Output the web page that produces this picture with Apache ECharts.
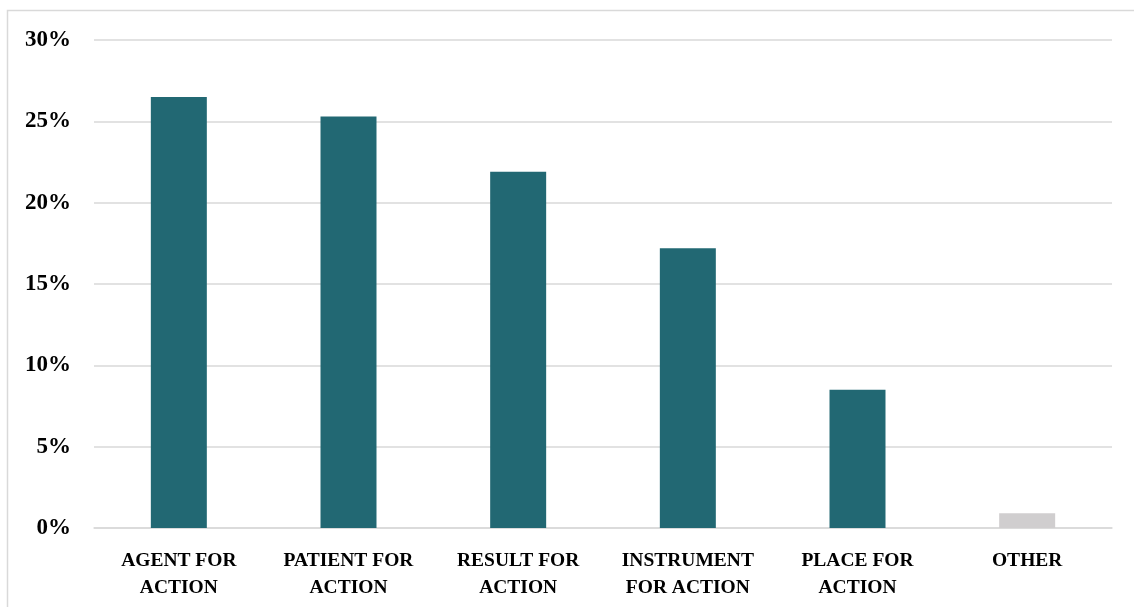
<!DOCTYPE html>
<html>
<head>
<meta charset="utf-8">
<title>Share by relation type</title>
<script src="https://cdn.jsdelivr.net/npm/echarts@6/dist/echarts.min.js"></script>
<style>
  html, body { margin: 0; padding: 0; background: #ffffff; }
  #chart { width: 1134px; height: 607px; }
</style>
</head>
<body>
<div id="chart"></div>
<script>
// Relation categories (shown on two lines under each bar)
const categories = [
  'AGENT FOR\nACTION',
  'PATIENT FOR\nACTION',
  'RESULT FOR\nACTION',
  'INSTRUMENT\nFOR ACTION',
  'PLACE FOR\nACTION',
  'OTHER'
];

// Share of each relation, in percent
const shares = [26.5, 25.3, 21.9, 17.2, 8.5, 0.9];

// Bar colours: the named relations in teal, the remainder in grey
const barColors = ['#226873', '#226873', '#226873', '#226873', '#226873', '#d0cecf'];

// Value axis ticks
const yMin = 0;
const yMax = 30;
const yStep = 5;

const fontFamily = '"Liberation Serif", "Times New Roman", serif';

const chart = echarts.init(document.getElementById('chart'), null, { renderer: 'canvas' });

chart.setOption({
  animation: false,
  backgroundColor: '#ffffff',
  graphic: [{
    type: 'rect',
    shape: { x: 7.5, y: 10.5, width: 1140, height: 610 },
    style: { fill: 'none', stroke: '#d9d9d9', lineWidth: 1.5 },
    silent: true
  }],
  grid: { left: 94, right: 22, top: 40, bottom: 79 },
  xAxis: {
    type: 'category',
    data: categories,
    axisLine: { show: true, lineStyle: { color: '#d9d9d9', width: 1.5 } },
    axisTick: { show: false },
    axisLabel: {
      interval: 0,
      margin: 19,
      color: '#000000',
      fontFamily: fontFamily,
      fontWeight: 'bold',
      fontSize: 19.5,
      lineHeight: 27,
      align: 'center'
    }
  },
  yAxis: {
    type: 'value',
    min: yMin,
    max: yMax,
    interval: yStep,
    axisLine: { show: false },
    axisTick: { show: false },
    splitLine: { lineStyle: { color: '#d9d9d9', width: 1.5 } },
    axisLabel: {
      margin: 23,
      color: '#000000',
      fontFamily: fontFamily,
      fontWeight: 'bold',
      fontSize: 23,
      formatter: v => v + '%'
    }
  },
  series: [{
    type: 'bar',
    data: shares.map((v, i) => ({ value: v, itemStyle: { color: barColors[i] } })),
    barWidth: '33%'
  }]
});
</script>
</body>
</html>
